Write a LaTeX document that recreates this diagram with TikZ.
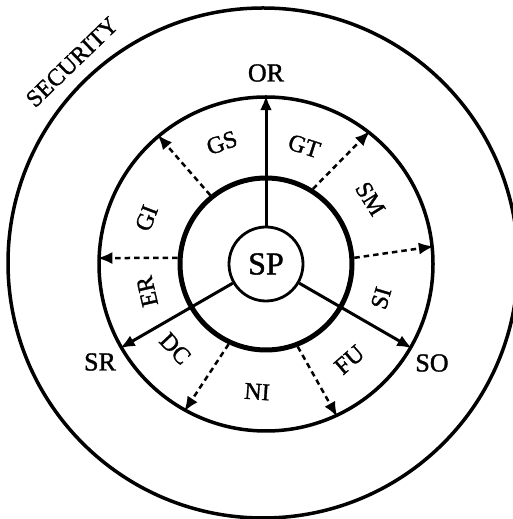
\documentclass[tikz,border=0pt]{standalone}
\usepackage{fontspec}
\setmainfont[FakeBold=1.3]{Liberation Serif}
\usetikzlibrary{arrows.meta}
\begin{document}
\begin{tikzpicture}[x=1pt,y=1pt,
  ringcirc/.style={circle, draw, inner sep=0pt},
  lab/.style={font=\fontsize{24}{24}\selectfont, inner sep=0pt},
  outlab/.style={font=\fontsize{26}{26}\selectfont, inner sep=0pt},
  solidarrow/.style={line width=3pt, -{Latex[length=15pt,width=12pt]}},
  dasharrow/.style={line width=2.5pt, dash pattern=on 5.5pt off 4pt, -{Latex[length=15pt,width=12pt]}}
]
\useasboundingbox (0,0) rectangle (513,519);
\clip (0,0) rectangle (513,519);
\coordinate (c) at (266,255);
% circles
\node[ringcirc, line width=3.5pt, minimum size=510pt] (outer) at (263,256) {};
\node[ringcirc, line width=3.5pt, minimum size=334pt] (ring) at (c) {};
\node[ringcirc, line width=5pt, minimum size=172pt] (mid) at (c) {};
\node[ringcirc, line width=2.8pt, minimum size=74pt, font=\fontsize{32}{32}\selectfont] (sp) at (c) {SP};
% solid arrows
\draw[solidarrow] (sp.90) -- (ring.90);
\draw[solidarrow] (sp.210) -- (ring.210);
\draw[solidarrow] (sp.-30) -- (ring.-30);
% dashed arrows
\draw[dasharrow] (mid.129) -- (ring.130);
\draw[dasharrow] (mid.58) -- (ring.52);
\draw[dasharrow] (mid.4) -- (ring.6);
\draw[dasharrow] (mid.176) -- (ring.178);
\draw[dasharrow] (mid.-115) -- (ring.-119);
\draw[dasharrow] (mid.-69) -- (ring.-65.5);
% ring labels
\node[lab, rotate=20] (gs) at ([shift={(110:129)}]c) {GS};
\node[lab, rotate=-18] (gt) at ([shift={(72:124)}]c) {GT};
\node[lab, rotate=-58] (sm) at ([shift={(32:123)}]c) {SM};
\node[lab, rotate=73.5] (si) at ([shift={(-16.5:120)}]c) {SI};
\node[lab, rotate=41] (fu) at ([shift={(-49:127)}]c) {FU};
\node[lab, rotate=-4] (ni) at ([shift={(-94:128)}]c) {NI};
\node[lab, rotate=-47] (dc) at ([shift={(-137:124)}]c) {DC};
\node[lab, rotate=103] (er) at ([shift={(193:122)}]c) {ER};
\node[lab, rotate=69] (gi) at ([shift={(159:128)}]c) {GI};
% outer labels
\node[outlab] (or) at (266,446) {OR};
\node[outlab] (sr) at (100,157) {SR};
\node[outlab] (so) at (432,156) {SO};
\node[lab, rotate=44] (sec) at (72,457) {SECURITY};
\end{tikzpicture}
\end{document}
